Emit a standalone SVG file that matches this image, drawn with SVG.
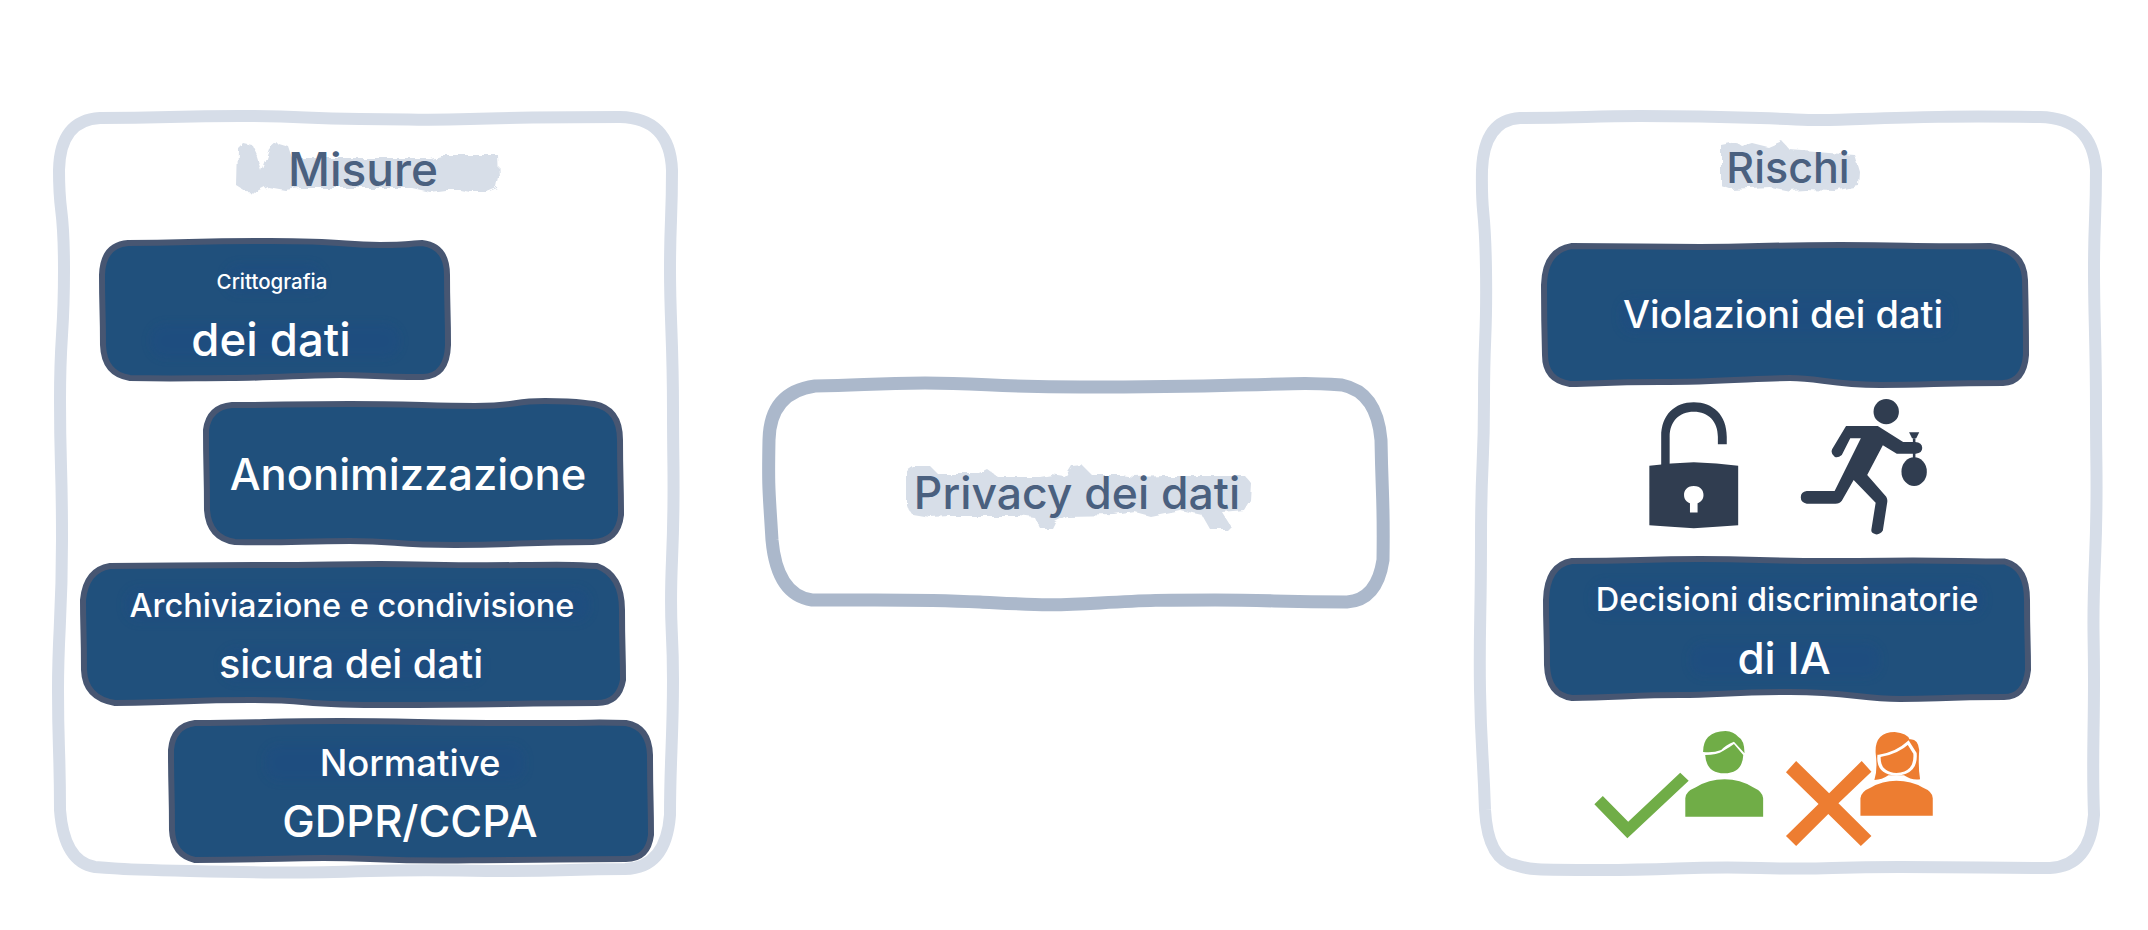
<svg xmlns="http://www.w3.org/2000/svg" width="2148" height="930" viewBox="0 0 2148 930">
<style>
.panel{fill:#fff;stroke:#d6dde8;stroke-width:12;stroke-linejoin:round}
.center{fill:#fff;stroke:#abb8cb;stroke-width:13;stroke-linejoin:round}
.box{fill:#20507c;stroke:#475672;stroke-width:6;stroke-linejoin:round}
.blob{fill:#d7dee8;filter:url(#rough)}
.smudge{fill:#1e4b84;opacity:.4;filter:url(#soft)}
text{font-family:"Inter","Roboto","Liberation Sans",sans-serif;text-anchor:middle;font-weight:500}
.t{fill:#4a607f}
.w{fill:#fff}
.dark{fill:#303d50}
.green{fill:#70ad47}
.orange{fill:#ed7d31}
</style>
<defs>
<filter id="rough" x="-10%" y="-30%" width="120%" height="160%"><feTurbulence type="fractalNoise" baseFrequency=".09" numOctaves="2" seed="4"/><feDisplacementMap in="SourceGraphic" scale="7"/></filter>
<filter id="soft" x="-10%" y="-30%" width="120%" height="160%"><feGaussianBlur stdDeviation="4"/></filter>
</defs>
<rect width="2148" height="930" fill="#fff"/>
<g id="connectors"></g>
<g id="misure">
<path class="panel" d="M100 118C170 118 170 116 240 116S300 119 360 119S415 121 470 119S545 117 620 117Q670 118 672 170C672 220 670 220 670 270S673 340 673 410S675 490 672 560S673 620 673 680S670 760 670 815Q666 868 625 869C570 869 570 871 510 871S440 869 370 871S280 873 190 871S130 869 95 867Q64 862 60 810C60 750 58 750 58 690S62 620 62 540S60 470 60 400S64 340 64 270S59 220 59 170Q60 120 100 118Z"/>
<path class="blob" d="M238 148L243 143L252 145L258 158L262 172L270 150L278 143L288 146L292 158H430L440 155H498L499 178L497 188L487 192H470L460 190H445L430 192L412 188H300L285 190L268 187L258 192L245 191L237 186Z"/>
<text class="t" x="363" y="186" font-size="46">Misure</text>
</g>
<g id="crittografia">
<path class="box" d="M128 243C190 243 190 241 270 241S340 245 380 245S410 243 422 243Q447 246 447 275C447 310 448 310 448 345Q447 376 423 377C370 377 370 375 340 375S270 378 230 378S180 379 130 378Q104 374 103 345C103 310 102 310 102 275Q103 245 128 243Z"/>
<rect class="smudge" x="225" y="264" width="98" height="30" rx="14"/>
<rect class="smudge" x="150" y="324" width="250" height="34" rx="16"/>
<text class="w" x="272" y="289" font-size="20.5">Crittografia</text>
<text class="w" x="271" y="356" font-size="45.5">dei dati</text>
</g>
<g id="anonimizzazione">
<path class="box" d="M232 405C280 405 290 404 350 404S430 406 475 406S510 401 545 401S575 402 594 404Q620 409 620 440C620 480 621 480 621 515Q618 541 593 542C520 542 520 545 455 545S400 541 350 541S290 543 235 542Q209 538 207 510C207 470 206 470 206 430Q209 407 232 405Z"/>
<text class="w" x="408" y="490" font-size="43.5">Anonimizzazione</text>
</g>
<g id="archiviazione">
<path class="box" d="M110 566C170 566 190 565 260 565S330 564 380 564S450 566 520 565S570 565 597 566Q622 575 622 610C622 650 623 650 623 680Q619 703 597 703C520 703 490 705 390 705S320 700 250 700S200 702 115 703Q85 698 84 670C84 630 83 630 83 600Q86 570 110 566Z"/>
<rect class="smudge" x="125" y="588" width="465" height="34" rx="14"/>
<rect class="smudge" x="222" y="648" width="260" height="34" rx="14"/>
<text class="w" x="352" y="617" font-size="32.5">Archiviazione e condivisione</text>
<text class="w" x="351" y="678" font-size="39.5">sicura dei dati</text>
</g>
<g id="normative">
<path class="box" d="M195 723C260 723 270 721 340 721S430 723 520 723S590 722 626 723Q649 727 650 755C650 800 651 800 651 835Q648 859 626 859C560 859 560 860 510 860S440 862 370 859S290 860 195 860Q173 855 172 830C172 790 171 790 171 750Q173 726 195 723Z"/>
<rect class="smudge" x="265" y="745" width="260" height="36" rx="14"/>
<text class="w" x="410" y="776" font-size="36.5">Normative</text>
<text class="w" x="410" y="837" font-size="43.5">GDPR/CCPA</text>
</g>
<g id="privacy">
<path class="center" d="M815 386C860 386 870 383 925 383S1000 387 1080 387S1170 387 1240 385S1310 383 1342 385Q1377 392 1381 440C1382 500 1384 500 1383 560Q1377 600 1347 602C1280 602 1270 600 1215 600S1150 600 1100 603S1040 605 980 602S900 600 812 600Q777 595 772 540C769 490 768 490 769 440Q770 392 815 386Z"/>
<path class="blob" d="M906 470L912 466H930L938 474H980L988 470L998 477H1040L1052 475L1065 477L1072 466L1082 465L1092 475H1120L1135 477L1165 476H1245L1251 483L1250 500L1244 510L1222 512L1230 525L1226 529H1210L1202 515L1180 510L1150 516L1135 512L1115 515L1066 516L1055 522L1052 528H1040L1035 518L1020 516H970L950 516L930 517L912 514L906 505Z"/>
<text class="t" x="1077" y="509" font-size="44.5">Privacy dei dati</text>
</g>
<g id="rischi">
<path class="panel" d="M1520 118C1580 118 1590 116 1640 116S1700 116 1760 118S1800 121 1860 119S1950 116 2040 117Q2092 118 2096 170C2096 220 2094 220 2094 270S2096 340 2096 410S2098 490 2095 560S2094 620 2094 680S2092 760 2094 815Q2090 866 2050 868C1980 868 1980 867 1900 867S1830 870 1760 868S1680 870 1600 870S1530 869 1515 865Q1488 860 1485 810C1483 750 1481 750 1480 690S1481 620 1481 540S1484 470 1484 400S1487 340 1486 270S1481 220 1482 170Q1484 120 1520 118Z"/>
<path class="blob" d="M1721 145L1736 142L1742 146L1752 143L1768 147L1782 141L1790 150L1855 155L1860 172L1859 186L1848 188L1835 191L1805 190L1790 191L1770 187L1750 188L1730 189L1721 186Z"/>
<text class="t" x="1788" y="183" font-size="43">Rischi</text>
</g>
<g id="violazioni">
<path class="box" d="M1572 246C1640 246 1640 247 1700 247S1760 245 1840 245S1900 247 1990 246Q2024 250 2025 280C2026 320 2026 320 2026 355Q2024 382 2003 383C1940 383 1930 385 1880 385S1820 378 1790 378S1720 382 1660 382S1600 384 1570 384Q1545 380 1545 355C1544 320 1544 320 1544 285Q1545 250 1572 246Z"/>
<rect class="smudge" x="1620" y="298" width="330" height="36" rx="14"/>
<text class="w" x="1783" y="328" font-size="38">Violazioni dei dati</text>
</g>
<g id="lucchetto" transform="translate(1459 90) scale(.423 .3333)">
<path class="dark" d="M478 1130V1040C478 975 510 937 555 937C600 937 633 975 633 1040V1063H612V1040C612 995 590 965 555 965C520 965 498 995 498 1040V1125Z"/>
<path class="dark" fill-rule="evenodd" d="M450 1127Q500 1120 555 1117Q610 1120 660 1127V1306Q610 1310 555 1315Q500 1310 450 1306ZM555 1188C538 1188 532 1202 532 1215C532 1228 538 1236 546 1240V1268H564V1240C572 1236 578 1228 578 1215C578 1202 572 1188 555 1188Z"/>
</g>
<g id="ladro" transform="translate(1459 90) scale(.423 .3333)">
<ellipse class="dark" cx="1010" cy="965" rx="30" ry="38"/>
<path class="dark" d="M915 1008H990L1050 1056H1078Q1096 1058 1095 1075Q1095 1090 1080 1091H1035L1002 1066L965 1155L1010 1220Q1014 1228 1012 1240L1002 1322Q995 1335 985 1333Q973 1330 975 1318L985 1238L933 1170L905 1232Q900 1241 890 1241H822Q808 1238 808 1222Q808 1205 822 1203H888L950 1045H925L905 1095Q895 1105 888 1100Q878 1092 882 1078Z"/>
<ellipse class="dark" cx="1076" cy="1145" rx="30" ry="43"/>
<path class="dark" d="M1064 1027H1088L1081 1045H1071Z"/>
<path class="dark" d="M1073 1045H1079V1060H1073ZM1073 1088H1079V1106H1073Z"/>
</g>
<g id="decisioni">
<path class="box" d="M1572 561C1640 561 1640 559 1700 559S1760 561 1830 561S1900 560 1960 561S2000 561 2006 562Q2027 568 2027 600C2027 640 2028 640 2028 670Q2025 697 2004 697C1940 697 1940 699 1900 699S1850 692 1790 692S1720 695 1680 695S1620 697 1572 698Q1548 695 1547 665C1547 630 1546 630 1546 600Q1547 565 1572 561Z"/>
<rect class="smudge" x="1592" y="582" width="392" height="34" rx="14"/>
<rect class="smudge" x="1690" y="643" width="190" height="34" rx="14"/>
<text class="w" x="1787" y="611" font-size="32.5">Decisioni discriminatorie</text>
<text class="w" x="1784" y="674" font-size="44">di IA</text>
</g>
<g id="approvato" transform="translate(1459 540) scale(.423 .3333)">
<polygon class="green" points="320,793 340,768 400,845 523,698 543,722 398,895"/>
<path class="green" d="M535 830V775Q535 755 560 742Q590 718 628 718Q665 718 695 742Q718 755 719 775V830Z"/>
<path class="green" d="M577 636Q577 575 630 573Q650 575 660 590Q675 600 675 640L650 605Q630 615 620 630Q600 640 577 636Z"/>
<path class="green" d="M582 645Q610 645 625 632Q640 622 650 612L672 645Q670 700 627 700Q585 700 582 645Z"/>
</g>
<g id="respinto" transform="translate(1459 540) scale(.423 .3333)">
<polygon class="orange" points="773,697 797,663 875,760 952,663 975,695 897,790 975,888 950,918 873,822 797,918 773,888 850,792"/>
<path class="orange" d="M949 827V775Q950 755 975 742Q1000 722 1034 722Q1070 722 1095 742Q1120 755 1120 775V827Z"/>
<path class="orange" d="M982 720Q990 690 985 640Q982 577 1030 576Q1060 580 1065 598Q1085 595 1088 630Q1085 680 1090 718Q1070 722 1052 706H1015Q1000 720 982 720Z"/>
<path class="orange" stroke="#fff" stroke-width="8" d="M993 648Q1035 640 1062 608L1078 640Q1082 700 1034 703Q990 700 993 648Z"/>
</g>
</svg>
